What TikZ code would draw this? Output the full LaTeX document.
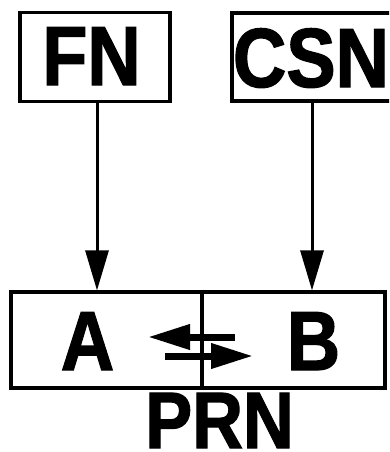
\documentclass[tikz,border=0pt]{standalone}
\usepackage{fontspec}
\setmainfont{Liberation Sans}
\newfontfamily\heavyfont[FakeStretch=0.88, FakeBold=1.5]{Liberation Sans Bold}
\usetikzlibrary{arrows.meta}
\tikzset{
  frame/.style={draw, line width=3.2pt, inner sep=0pt},
  bigtext/.style={font=\heavyfont\fontsize{84}{84}\selectfont, inner sep=0pt, anchor=base},
  feed/.style={line width=3pt, -{Triangle[length=40pt,width=23pt]}},
  flux/.style={line width=7pt, -{Triangle[length=42pt,width=24pt]}}
}
\begin{document}
\begin{tikzpicture}[x=1pt,y=-1pt]
\useasboundingbox (0,0) rectangle (389,452);
\clip (0,0) rectangle (389,452);
% upper boxes
\node[frame, minimum width=150pt, minimum height=89pt] (fnbox) at (95,57) {};
\node[frame, minimum width=162pt, minimum height=88pt] (csnbox) at (313,57) {};
\node[bigtext] (fn) at (91.5,85) {FN};
\node[bigtext] (csn) at (311,87) {CSN};
% lower box, split in two halves
\node[frame, minimum width=191pt, minimum height=96pt] (boxa) at (106.5,340) {};
\node[frame, minimum width=183pt, minimum height=96pt] (boxb) at (293.5,340) {};
\node[bigtext] (a) at (87.5,370) {A};
\node[bigtext] (b) at (313.5,370) {B};
\node[bigtext, font=\heavyfont\fontsize{80}{80}\selectfont] (prn) at (219.5,448) {PRN};
% inputs from above
\coordinate (fnin) at (97,0);
\coordinate (csnin) at (312,0);
\draw[feed] (fnin |- fnbox.south) -- (fnin |- boxa.north);
\draw[feed] (csnin |- csnbox.south) -- (csnin |- boxb.north);
% equilibrium arrows
\coordinate (l1) at (235,337);
\coordinate (l2) at (148,337);
\coordinate (r1) at (165,356);
\coordinate (r2) at (253,356);
\draw[flux] (l1) -- (l2);
\draw[flux] (r1) -- (r2);
\end{tikzpicture}
\end{document}
